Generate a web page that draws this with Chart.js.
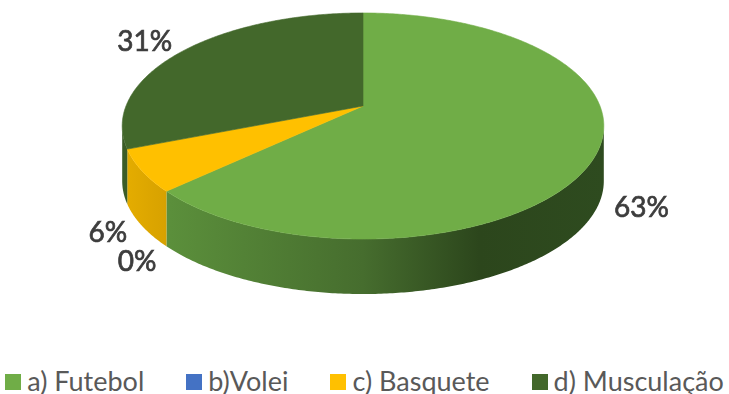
<!DOCTYPE html>
<html>
<head>
<meta charset="utf-8">
<title>Modalidades</title>
<script src="https://cdn.jsdelivr.net/npm/chart.js@4.4.0/dist/chart.umd.min.js"></script>
<style>
  html, body { margin: 0; padding: 0; background: #fff; }
  #wrap { width: 729px; height: 394px; position: relative; }
  #chartBox { position: absolute; left: 0; top: 0; width: 729px; height: 340px; }
  #legend {
    position: absolute; left: 0; top: 364px; width: 729px;
    display: flex; justify-content: center; gap: 42px;
    font: 27px Lato, sans-serif; color: #595959; line-height: 34px;
  }
  #legend .item { display: flex; align-items: center; white-space: nowrap; }
  #legend .box { width: 16px; height: 16px; margin-right: 6px; margin-top: 1px; }
</style>
</head>
<body>
<div id="wrap">
  <div id="chartBox"><canvas id="pieChart"></canvas></div>
  <div id="legend"></div>
</div>
<script>
// ===== Data =====
const categories = ['a) Futebol', 'b)Volei', 'c) Basquete', 'd) Musculação'];
const shares = [63, 0, 6, 31];

// ===== Colours =====
const topColors = ['#70AD47', '#4472C4', '#FFC000', '#43682B'];
// side wall shading, stops along the pie's width (left -> right)
const sideShades = [
    [[0, '#62983f'], [0.1, '#5b8f3b'], [0.5, '#466d2e'], [0.74, '#2c461c'], [1, '#2e4b1f']],
    [[0, '#3a64ad'], [1, '#2c4f8a']],
    [[0, '#e6ae00'], [0.11, '#d49f00'], [1, '#c99700']],
    [[0, '#3b5c27'], [1, '#2f4a1f']]
];

// ===== 3D look =====
const RX = 237;      // horizontal radius of the disc
const RY = 109.5;    // vertical radius of the disc
const PERSP = 0.177; // far side shrink
const DEPTH = 55;    // wall height
const TOP_Y = 106;   // projected centre of the top face

const pie3d = {
    id: 'pie3d',
    beforeDatasetsDraw(chart) {
        const ctx = chart.ctx;
        const arcs = chart.getDatasetMeta(0).data;
        const cx = arcs[0].x;

        const project = (a, drop) => {
            const u = Math.cos(a);
            const v = -Math.sin(a);
            const w = 1 + PERSP * v;
            return { x: cx + RX * u / w, y: TOP_Y - RY * v / w + drop };
        };

        const steps = (s, e) => Math.max(2, Math.ceil((e - s) / 0.01));
        const left = cx - RX * 1.02;
        const right = cx + RX * 1.02;

        // outer walls, only the part that faces the viewer
        const aMin = Math.asin(PERSP);
        const aMax = Math.PI - aMin;
        arcs.forEach((arc, i) => {
            const s = Math.max(arc.startAngle, aMin);
            const e = Math.min(arc.endAngle, aMax);
            if (e <= s) return;
            const n = steps(s, e);
            ctx.beginPath();
            for (let k = 0; k <= n; k++) {
                const p = project(s + (e - s) * k / n, 0);
                k === 0 ? ctx.moveTo(p.x, p.y) : ctx.lineTo(p.x, p.y);
            }
            for (let k = n; k >= 0; k--) {
                const p = project(s + (e - s) * k / n, DEPTH);
                ctx.lineTo(p.x, p.y);
            }
            ctx.closePath();
            const g = ctx.createLinearGradient(left, 0, right, 0);
            sideShades[i].forEach(([o, c]) => g.addColorStop(o, c));
            ctx.fillStyle = g;
            ctx.fill();
        });

        // top faces
        arcs.forEach((arc, i) => {
            const s = arc.startAngle, e = arc.endAngle;
            if (e - s <= 0) return;
            const n = steps(s, e);
            ctx.beginPath();
            ctx.moveTo(cx, TOP_Y);
            for (let k = 0; k <= n; k++) {
                const p = project(s + (e - s) * k / n, 0);
                ctx.lineTo(p.x, p.y);
            }
            ctx.closePath();
            ctx.fillStyle = topColors[i];
            ctx.fill();
            ctx.strokeStyle = topColors[i];
            ctx.lineWidth = 0.6;
            ctx.stroke();
        });

        // percentage labels outside the disc
        ctx.save();
        ctx.font = '28px Lato';
        ctx.fillStyle = '#3d3d3d';
        ctx.strokeStyle = '#3d3d3d';
        ctx.lineWidth = 0.7;
        ctx.textAlign = 'center';
        ctx.textBaseline = 'middle';
        arcs.forEach((arc, i) => {
            const mid = (arc.startAngle + arc.endAngle) / 2;
            const u = Math.cos(mid);
            const vf = Math.sin(mid);
            const text = shares[i] + '%';
            const w = ctx.measureText(text).width;
            const anchor = project(mid, vf > 0 ? DEPTH : 0);
            const lx = anchor.x + u * (21 + w / 2);
            const ly = anchor.y + (vf > 0 ? (vf - 0.4) * 56 : vf * 14);
            ctx.fillText(text, lx, ly);
            ctx.strokeText(text, lx, ly);
        });
        ctx.restore();
        return false;
    }
};

new Chart(document.getElementById('pieChart'), {
    type: 'pie',
    data: {
        labels: categories,
        datasets: [{
            data: shares,
            backgroundColor: topColors,
            borderWidth: 0
        }]
    },
    options: {
        responsive: true,
        maintainAspectRatio: false,
        animation: false,
        layout: { padding: { right: 3 } },
        plugins: {
            tooltip: { enabled: false },
            legend: { display: false }
        }
    },
    plugins: [pie3d]
});

// ===== Legend row =====
const legendEl = document.getElementById('legend');
categories.forEach((name, i) => {
    const item = document.createElement('div');
    item.className = 'item';
    const box = document.createElement('span');
    box.className = 'box';
    box.style.background = topColors[i];
    item.appendChild(box);
    item.appendChild(document.createTextNode(name));
    legendEl.appendChild(item);
});
</script>
</body>
</html>
